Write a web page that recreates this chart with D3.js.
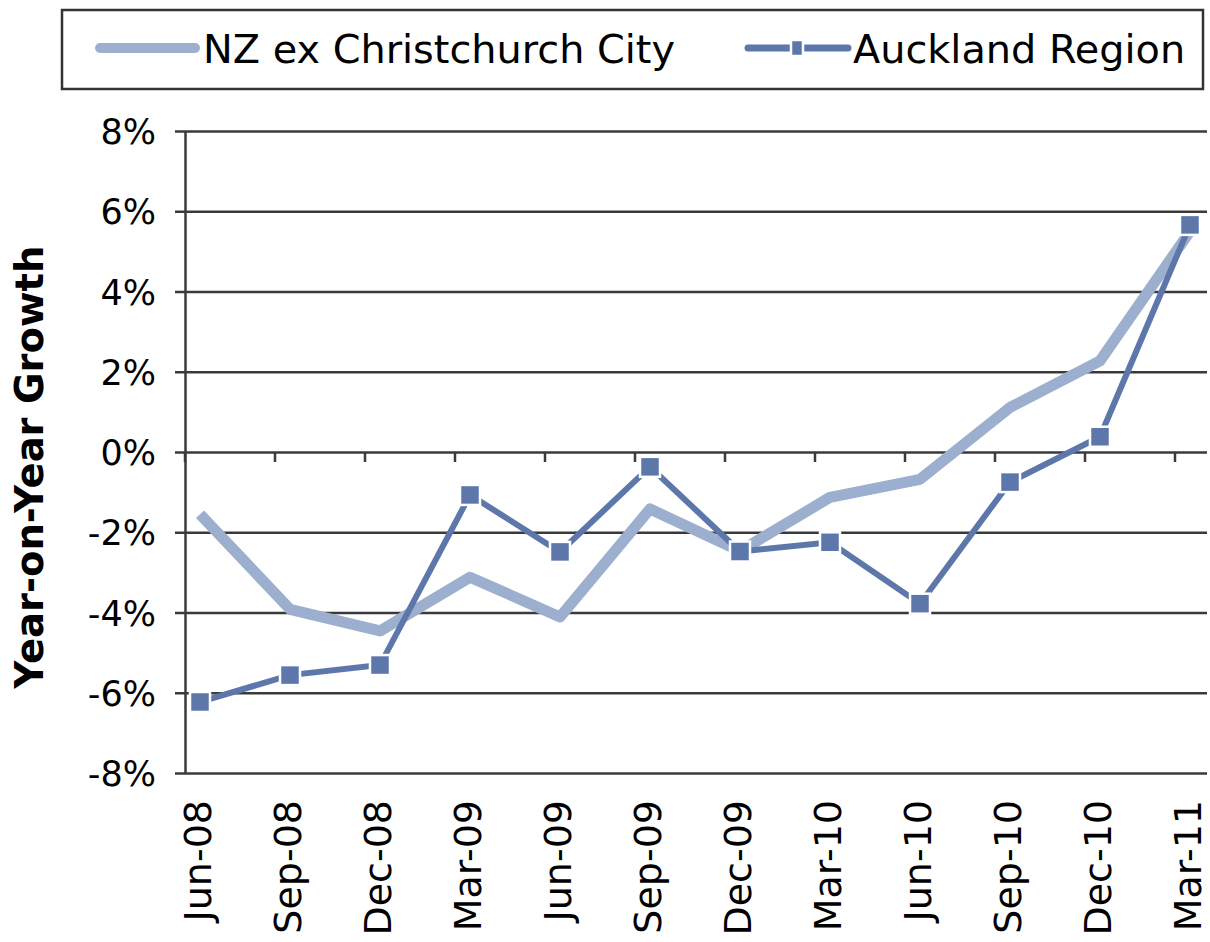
<!DOCTYPE html>
<html>
<head>
<meta charset="utf-8">
<script src="https://cdn.jsdelivr.net/npm/d3@7"></script>
<style>
  body { margin: 0; background: #fff; }
  svg { display: block; font-family: "DejaVu Sans", Verdana, sans-serif; }
</style>
</head>
<body>
<svg width="1210" height="942"></svg>
<script>
// quarters on the category axis
const quarters = ["Jun-08", "Sep-08", "Dec-08", "Mar-09", "Jun-09", "Sep-09",
                  "Dec-09", "Mar-10", "Jun-10", "Sep-10", "Dec-10", "Mar-11"];

// year-on-year growth, percent
const nzExChch = [-1.55, -3.92, -4.46, -3.12, -4.11, -1.42,
                  -2.47, -1.13, -0.68, 1.11, 2.27, 5.5];
const auckland = [-6.23, -5.56, -5.31, -1.07, -2.49, -0.37,
                  -2.48, -2.25, -3.78, -0.75, 0.38, 5.66];

const yTicks = [-8, -6, -4, -2, 0, 2, 4, 6, 8];

const names = ["NZ ex Christchurch City", "Auckland Region"];

const lightBlue = "#9dafce";
const darkBlue = "#5e77ab";
const gridColor = "#3a3a3a";

const svg = d3.select("svg");

const plotLeft = 185, plotTop = 131, plotBottom = 773, plotRight = 1207;

const y = d3.scaleLinear()
    .domain([-8, 8])
    .range([plotBottom, plotTop]);

// points sit a little inside each category slot, ticks on slot boundaries
const xPoint = d3.scalePoint()
    .domain(quarters)
    .range([200, 1190]);

const xBand = d3.scaleBand()
    .domain(quarters)
    .range([plotLeft, plotLeft + 12 * xPoint.step()]);

// y axis + gridlines
const yAxis = svg.append("g")
    .attr("transform", `translate(${plotLeft},0)`)
    .call(d3.axisLeft(y)
        .tickValues(yTicks)
        .tickSizeOuter(0)
        .tickFormat(d => d + "%"));

yAxis.select(".domain").attr("stroke", gridColor).attr("stroke-width", 2.5);
yAxis.selectAll(".tick line")
    .attr("x1", -10)
    .attr("x2", plotRight - plotLeft)
    .attr("stroke", gridColor)
    .attr("stroke-width", 2.5);
yAxis.selectAll(".tick text")
    .attr("x", -29)
    .attr("dy", "0.36em")
    .attr("fill", "#000")
    .style("font-size", "35px")
    .style("font-family", "DejaVu Sans, Verdana, sans-serif");

// category axis crossing at 0%
const xAxis = svg.append("g");
xAxis.selectAll("line.tk")
    .data(quarters)
    .join("line")
    .attr("class", "tk")
    .attr("x1", d => xBand(d))
    .attr("x2", d => xBand(d))
    .attr("y1", y(0))
    .attr("y2", y(0) + 10)
    .attr("stroke", gridColor)
    .attr("stroke-width", 2.5);

xAxis.selectAll("text")
    .data(quarters)
    .join("text")
    .attr("transform", d => `translate(${xPoint(d)},800) rotate(-90)`)
    .attr("text-anchor", "end")
    .attr("dy", "0.3em")
    .style("font-size", "38px")
    .text(d => d);

// y title
svg.append("text")
    .attr("transform", `translate(43,467) rotate(-90)`)
    .attr("text-anchor", "middle")
    .style("font-size", "38.5px")
    .style("font-weight", "bold")
    .text("Year-on-Year Growth");

// series
const line = d3.line()
    .x((d, i) => xPoint(quarters[i]))
    .y(d => y(d));

svg.append("path")
    .datum(nzExChch)
    .attr("fill", "none")
    .attr("stroke", lightBlue)
    .attr("stroke-width", 11)
    .attr("stroke-linejoin", "round")
    .attr("d", line);

svg.append("path")
    .datum(auckland)
    .attr("fill", "none")
    .attr("stroke", darkBlue)
    .attr("stroke-width", 6)
    .attr("d", line);

const sq = 20;
svg.selectAll("rect.mk")
    .data(auckland)
    .join("rect")
    .attr("class", "mk")
    .attr("x", (d, i) => xPoint(quarters[i]) - sq / 2)
    .attr("y", d => y(d) - sq / 2)
    .attr("width", sq)
    .attr("height", sq)
    .attr("fill", darkBlue)
    .attr("stroke", "#fff")
    .attr("stroke-width", 2.5);

// legend
const legend = svg.append("g");
legend.append("rect")
    .attr("x", 62).attr("y", 10)
    .attr("width", 1141).attr("height", 79)
    .attr("fill", "#fff")
    .attr("stroke", "#333")
    .attr("stroke-width", 2.5);

legend.append("line")
    .attr("x1", 100).attr("x2", 195)
    .attr("y1", 48).attr("y2", 48)
    .attr("stroke", lightBlue)
    .attr("stroke-width", 10)
    .attr("stroke-linecap", "round");

legend.append("line")
    .attr("x1", 748).attr("x2", 848)
    .attr("y1", 48).attr("y2", 48)
    .attr("stroke", darkBlue)
    .attr("stroke-width", 7)
    .attr("stroke-linecap", "round");

legend.append("rect")
    .attr("x", 791).attr("y", 40)
    .attr("width", 12).attr("height", 16)
    .attr("fill", darkBlue)
    .attr("stroke", "#fff")
    .attr("stroke-width", 2.5);

legend.selectAll("text")
    .data(names)
    .join("text")
    .attr("x", (d, i) => i === 0 ? 203 : 853)
    .attr("y", 63)
    .style("font-size", "39.8px")
    .text(d => d);
</script>
</body>
</html>
